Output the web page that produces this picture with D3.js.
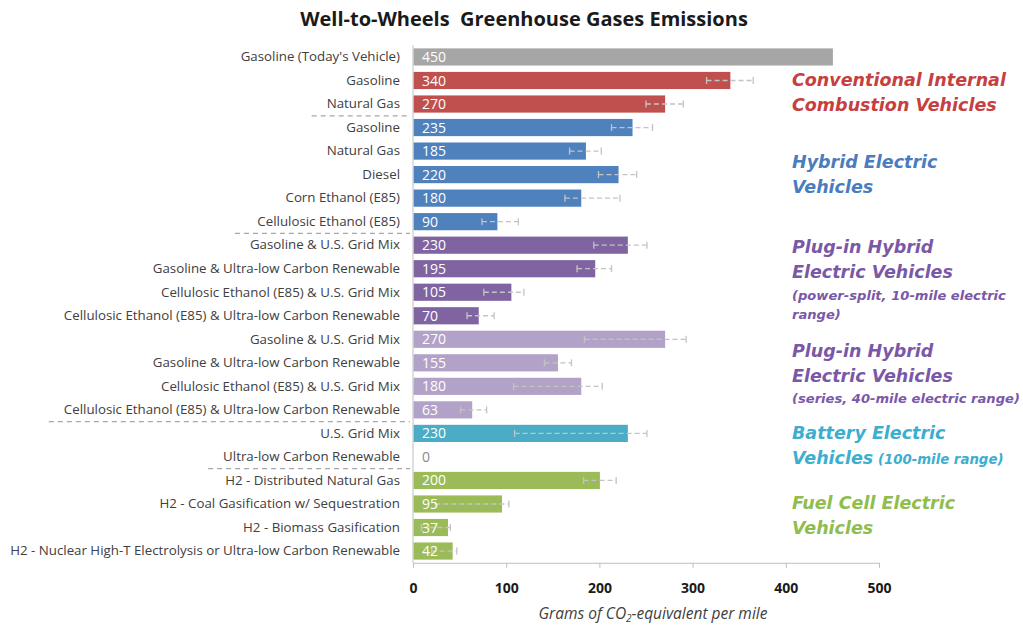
<!DOCTYPE html>
<html><head><meta charset="utf-8">
<script src="https://cdn.jsdelivr.net/npm/d3@7"></script>
<style>
body{margin:0;background:#fff;}
svg{display:block;}
</style></head>
<body>
<svg id="chart" width="1023" height="626"></svg>
<script>
const categories = [
 "Gasoline (Today's Vehicle)","Gasoline","Natural Gas",
 "Gasoline","Natural Gas","Diesel","Corn Ethanol (E85)","Cellulosic Ethanol (E85)",
 "Gasoline & U.S. Grid Mix","Gasoline & Ultra-low Carbon Renewable","Cellulosic Ethanol (E85) & U.S. Grid Mix","Cellulosic Ethanol (E85) & Ultra-low Carbon Renewable",
 "Gasoline & U.S. Grid Mix","Gasoline & Ultra-low Carbon Renewable","Cellulosic Ethanol (E85) & U.S. Grid Mix","Cellulosic Ethanol (E85) & Ultra-low Carbon Renewable",
 "U.S. Grid Mix","Ultra-low Carbon Renewable",
 "H2 - Distributed Natural Gas","H2 - Coal Gasification w/ Sequestration","H2 - Biomass Gasification","H2 - Nuclear High-T Electrolysis or Ultra-low Carbon Renewable"
];
const values  = [450,340,270,235,185,220,180,90,230,195,105,70,270,155,180,63,230,0,200,95,37,42];
const errLow  = [null,315,250,213,168,199,163,74,194,176,76,58,184,141,108,51,109,null,183,24,9,20];
const errHigh = [null,365,290,257,202,240,222,113,251,213,119,87,293,170,203,79,251,null,218,103,40,47];
const groupOf = [0,1,1,2,2,2,2,2,3,3,3,3,4,4,4,4,5,5,6,6,6,6];
const groupColors = ["#a6a6a6","#c0504d","#4f81bd","#8064a2","#b3a2c7","#4bacc6","#9bbb59"];
const legendColors = [null,"#c6403f","#4a7cc0","#7a58a8","#7a58a8","#3caed0","#8fbd4e"];
const separatorsAfter = [2,7,15,17];
const xTicks = [0,100,200,300,400,500];
const legendGroups = [
 {g:1, lines:[["Conventional Internal"],["Combustion Vehicles"]], small:[false,false]},
 {g:2, lines:[["Hybrid Electric"],["Vehicles"]], small:[false,false]},
 {g:3, lines:[["Plug-in Hybrid"],["Electric Vehicles"],["(power-split, 10-mile electric"],["range)"]], small:[false,false,true,true]},
 {g:4, lines:[["Plug-in Hybrid"],["Electric Vehicles"],["(series, 40-mile electric range)"]], small:[false,false,true]},
 {g:5, lines:[["Battery Electric"],["Vehicles"," (100-mile range)"]], small:[false,false]},
 {g:6, lines:[["Fuel Cell Electric"],["Vehicles"]], small:[false,false]}
];
const titleText = "Well-to-Wheels  Greenhouse Gases Emissions";

const svg = d3.select("#chart");
const m = {left:413, right:879, top:45.2, bottom:562.8};
const x = d3.scaleLinear().domain([0,500]).range([m.left, m.right]);
const idx = d3.range(categories.length);
const y = d3.scaleBand().domain(idx).range([m.top, m.bottom]).paddingInner(0.27).paddingOuter(0.135);

// title
svg.append("text").attr("x",524).attr("y",26).attr("text-anchor","middle")
  .style("font-family","'Open Sans'").style("font-weight","700").style("font-size","20px")
  .attr("fill","#1a1a1a").attr("xml:space","preserve").text(titleText);

// bars
svg.append("g").selectAll("rect").data(idx).join("rect")
  .attr("x", x(0)+0.5).attr("y", i=>y(i)).attr("height", y.bandwidth())
  .attr("width", i=>Math.max(0, x(values[i])-x(0)))
  .attr("fill", i=>groupColors[groupOf[i]]);

// error bars
const eb = svg.append("g").attr("stroke","#c4c4c4").attr("stroke-width",1.3);
idx.filter(i=>errLow[i]!=null).forEach(i=>{
  const cy = y(i)+y.bandwidth()/2;
  eb.append("line").attr("x1",x(errLow[i])).attr("x2",x(errHigh[i])).attr("y1",cy).attr("y2",cy)
    .attr("stroke-dasharray","5,3");
  [errLow[i],errHigh[i]].forEach(v=>{
    eb.append("line").attr("x1",x(v)).attr("x2",x(v)).attr("y1",cy-3.5).attr("y2",cy+3.5);
  });
});

// data labels
svg.append("g").selectAll("text").data(idx).join("text")
  .attr("x", x(0)+9).attr("y", i=>y(i)+y.bandwidth()/2).attr("dy","0.36em")
  .style("font-family","'Open Sans'").style("font-size","14px")
  .attr("fill", i=>values[i]===0 ? "#8a8a8a" : "#ffffff")
  .text(i=>values[i]);

// y axis
const yAxis = d3.axisLeft(y).tickSize(0).tickPadding(13).tickFormat(i=>categories[i]);
const gy = svg.append("g").attr("transform",`translate(${m.left},0)`).call(yAxis);
gy.select(".domain").attr("stroke","#bfbfbf").attr("d",`M0,${m.top}V${m.bottom}`);
gy.selectAll("text").style("font-family","'Open Sans'").style("font-size","13.3px").attr("fill","#404040");

// separators
const labelW = idx.map(i=>gy.selectAll(".tick text").nodes()[i].getComputedTextLength());
separatorsAfter.forEach(r=>{
  const yy = y(r)+y.bandwidth()+ (y.step()-y.bandwidth())/2;
  const w = Math.max(labelW[r], labelW[r+1]) + 25;
  svg.append("line").attr("x1", m.left-3-w).attr("x2", m.left-3).attr("y1",yy).attr("y2",yy)
    .attr("stroke","#a8a8a8").attr("stroke-width",1.2).attr("stroke-dasharray","5,4");
});

// x axis
const xAxis = d3.axisBottom(x).tickValues(xTicks).tickSize(5).tickSizeOuter(0).tickPadding(15);
const gx = svg.append("g").attr("transform",`translate(0,${m.bottom})`).call(xAxis);
gx.select(".domain").attr("stroke","#bfbfbf");
gx.selectAll(".tick line").attr("stroke","#bfbfbf");
gx.selectAll("text").style("font-family","'Open Sans'").style("font-weight","700").style("font-size","14px").attr("fill","#1a1a1a");

// x axis title
const xt = svg.append("text").attr("x",(m.left+m.right)/2+7).attr("y",619).attr("text-anchor","middle")
  .style("font-family","'Open Sans'").style("font-style","italic").style("font-size","15.5px").attr("fill","#404040");
xt.append("tspan").text("Grams of CO");
xt.append("tspan").attr("dy","3").style("font-size","10px").text("2");
xt.append("tspan").attr("dy","-3").text("-equivalent per mile");

// group legend
legendGroups.forEach(lg=>{
  const rows = idx.filter(i=>groupOf[i]===lg.g);
  const center = (y(rows[0]) + y(rows[rows.length-1]) + y.bandwidth())/2;
  const offs = [0];
  for(let k=1;k<lg.lines.length;k++){
    const a=lg.small[k-1], b=lg.small[k];
    offs.push(offs[k-1] + (!a&&!b?25:(!a&&b?23:19)));
  }
  const shift = center - (offs[0]+offs[offs.length-1])/2;
  lg.lines.forEach((parts,k)=>{
    const t = svg.append("text").attr("x",792).attr("y",shift+offs[k]).attr("dy","0.35em")
      .style("font-family","'DejaVu Sans'").style("font-weight","700").style("font-style","italic")
      .style("font-size", lg.small[k] ? "13.1px" : "17.5px").attr("fill", legendColors[lg.g]).attr("xml:space","preserve");
    parts.forEach((p,j)=>{
      t.append("tspan").style("font-size", j>0 ? "13.3px" : null).text(p);
    });
  });
});
</script>
</body></html>
